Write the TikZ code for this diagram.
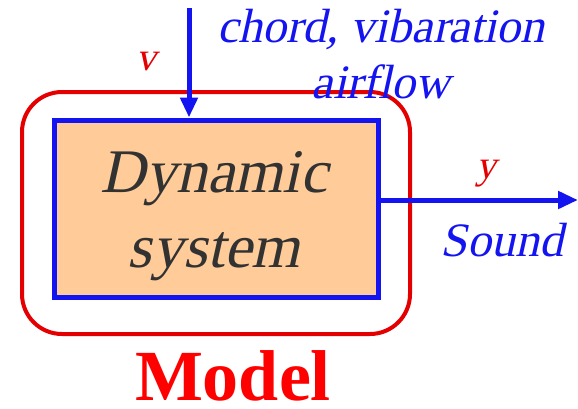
\documentclass[tikz,border=0pt]{standalone}
\usepackage{fontspec}
\setmainfont{Liberation Serif}
% slanted serif face for the italic labels
\newfontfamily\slantserif{Liberation Serif}[FakeSlant=0.22]
\usetikzlibrary{arrows.meta,calc}
\definecolor{sigblue}{RGB}{20,20,240}
\definecolor{modred}{RGB}{228,0,0}
\definecolor{peach}{RGB}{255,204,153}
\definecolor{darktext}{RGB}{50,50,50}
\begin{document}
\begin{tikzpicture}[x=1pt,y=-1pt,
  sigline/.style={draw=sigblue,line width=5pt,-{Triangle[length=20pt,width=17pt]}},
  sigtext/.style={text=sigblue,font=\fontsize{48}{50}\selectfont\slantserif,inner sep=0pt,anchor=base},
  vartext/.style={text=modred,font=\fontsize{40}{44}\selectfont\slantserif,inner sep=0pt,anchor=base},
  systext/.style={text=darktext,font=\fontsize{62}{66}\selectfont\slantserif,inner sep=0pt,anchor=base}]
\useasboundingbox (0,0) rectangle (578,408);
% model boundary
\draw[draw=modred,line width=4pt,rounded corners=40pt] (22,92) rectangle (410,334);
% dynamic system block
\node[draw=sigblue,fill=peach,line width=5pt,minimum width=324pt,minimum height=177pt,inner sep=0pt] (sys) at (216,208.5) {};
\node[systext] (dyn) at (214,192) {Dynamic};
\node[systext] (systm) at (214,267) {system};
% input signal
\coordinate (vin) at (189,8);
\draw[sigline] (vin) -- (vin |- sys.north);
\node[vartext] (v) at (146,70) {v};
\node[sigtext] (chord) at (381,42) {chord, vibaration};
\node[sigtext] (air) at (381,98) {airflow};
% output signal
\coordinate (yout) at (578,200);
\draw[sigline] (sys.east |- yout) -- (yout);
\node[vartext] (y) at (486,178) {y};
\node[sigtext] (sound) at (502,256) {Sound};
% label
\node[text=red,font=\fontsize{72}{76}\selectfont\bfseries,inner sep=0pt,anchor=base] (model) at (233,400) {Model};
\end{tikzpicture}
\end{document}
